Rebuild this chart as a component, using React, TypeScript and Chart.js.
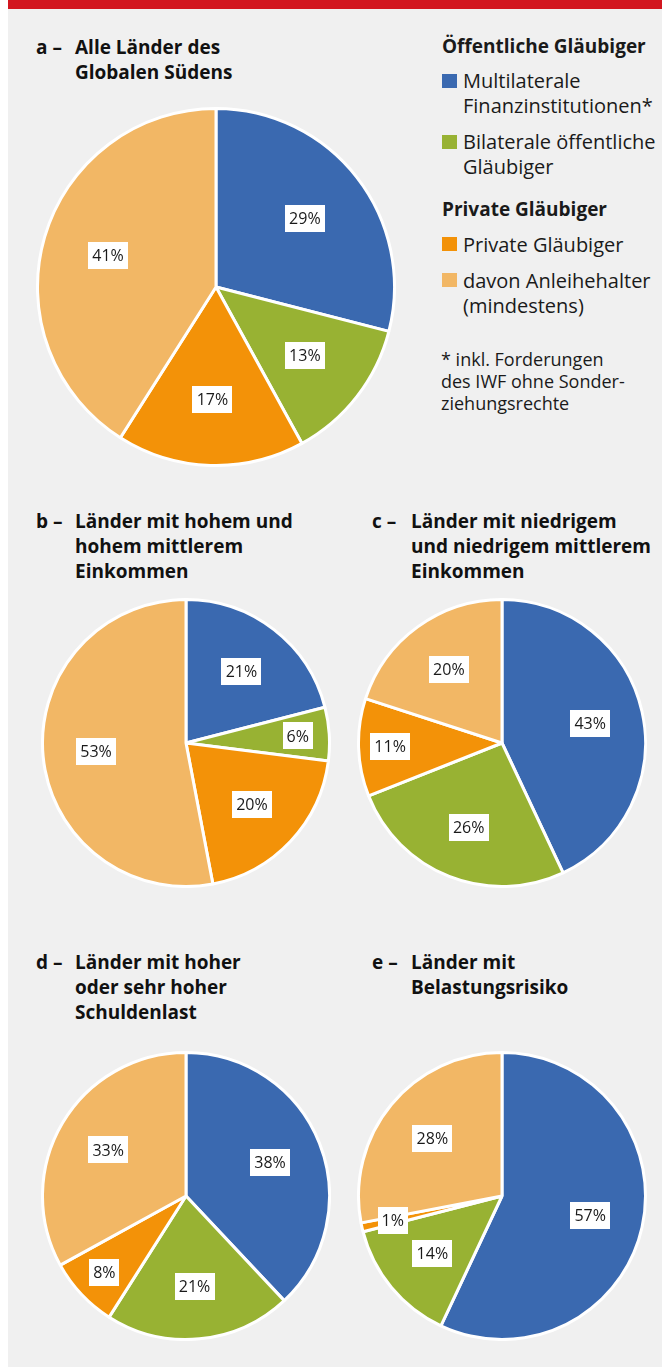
import React, { useEffect, useRef } from "react";
import { Chart, registerables } from "chart.js";

Chart.register(...registerables);

// ---- Data ----
const categories = [
  "Multilaterale Finanzinstitutionen*",
  "Bilaterale öffentliche Gläubiger",
  "Private Gläubiger",
  "davon Anleihehalter (mindestens)",
];
const valuesA = [29, 13, 17, 41];
const valuesB = [21, 6, 20, 53];
const valuesC = [43, 26, 11, 20];
const valuesD = [38, 21, 8, 33];
const valuesE = [57, 14, 1, 28];

const titleA = ["Alle Länder des", "Globalen Südens"];
const titleB = ["Länder mit hohem und", "hohem mittlerem", "Einkommen"];
const titleC = ["Länder mit niedrigem", "und niedrigem mittlerem", "Einkommen"];
const titleD = ["Länder mit hoher", "oder sehr hoher", "Schuldenlast"];
const titleE = ["Länder mit", "Belastungsrisiko"];

const colors = ["#3a69b0", "#98b233", "#f39208", "#f2b765"];

const FONT = "'Open Sans', 'Noto Sans', sans-serif";

const labelPlugin = {
  id: "boxLabels",
  afterDatasetsDraw(chart: any) {
    const ctx = chart.ctx;
    const meta = chart.getDatasetMeta(0);
    const data = chart.data.datasets[0].data as number[];
    ctx.save();
    ctx.font = "16px 'Open Sans'";
    ctx.textAlign = "center";
    ctx.textBaseline = "middle";
    meta.data.forEach((arc: any, i: number) => {
      const p = arc.getProps(["x", "y", "startAngle", "endAngle", "outerRadius"], true);
      const v = data[i];
      const mid = (p.startAngle + p.endAngle) / 2;
      const f = v < 12 ? 0.78 : 0.63;
      const px = p.x + Math.cos(mid) * p.outerRadius * f;
      const py = p.y + Math.sin(mid) * p.outerRadius * f;
      const text = v + "%";
      const w = Math.round(ctx.measureText(text).width + 8);
      const h = 27;
      ctx.fillStyle = "#ffffff";
      ctx.fillRect(Math.round(px - w / 2), Math.round(py - h / 2), w, h);
      ctx.fillStyle = "#1a1a1a";
      ctx.fillText(text, px, py + 1);
    });
    ctx.restore();
  },
};

function Pie({ values, size, left, top }: { values: number[]; size: number; left: number; top: number }) {
  const ref = useRef<HTMLCanvasElement>(null);
  useEffect(() => {
    if (!ref.current) return;
    const chart = new Chart(ref.current, {
      type: "pie",
      data: {
        labels: categories,
        datasets: [
          {
            data: values,
            backgroundColor: colors,
            borderColor: "#ffffff",
            borderWidth: 3,
          },
        ],
      },
      options: {
        responsive: false,
        animation: false,
        layout: { padding: 0 },
        plugins: { legend: { display: false }, tooltip: { enabled: false } },
      },
      plugins: [labelPlugin],
    });
    return () => chart.destroy();
  }, [values]);
  return (
    <canvas
      ref={ref}
      width={size}
      height={size}
      style={{ position: "absolute", left, top, width: size, height: size }}
    />
  );
}

function Title({ letter, lines, left, top }: { letter: string; lines: string[]; left: number; top: number }) {
  const style: React.CSSProperties = {
    position: "absolute",
    top,
    fontFamily: FONT,
    fontWeight: 700,
    fontSize: 19,
    lineHeight: "25px",
    color: "#111",
    whiteSpace: "nowrap",
  };
  return (
    <>
      <div style={{ ...style, left }}>{letter} –</div>
      <div style={{ ...style, left: left + 39 }}>
        {lines.map((l, i) => (
          <div key={i}>{l}</div>
        ))}
      </div>
    </>
  );
}

function Abs({ left, top, children, style }: { left: number; top: number; children: React.ReactNode; style?: React.CSSProperties }) {
  return (
    <div
      style={{
        position: "absolute",
        left,
        top,
        fontFamily: FONT,
        fontSize: 20,
        lineHeight: "25px",
        color: "#1a1a1a",
        whiteSpace: "nowrap",
        ...style,
      }}
    >
      {children}
    </div>
  );
}

function Square({ top, color }: { top: number; color: string }) {
  return <div style={{ position: "absolute", left: 442, top, width: 15, height: 14, background: color }} />;
}

export default function App() {
  return (
    <div style={{ position: "absolute", left: 0, top: 0, width: 662, height: 1367, overflow: "hidden" }}>
      <div style={{ position: "absolute", left: 8, top: 0, width: 654, height: 1367, background: "#f0f0f0" }} />
      <div style={{ position: "absolute", left: 8, top: 0, width: 654, height: 9, background: "#d2161f" }} />

      <Title letter="a" lines={titleA} left={36} top={35} />
      <Title letter="b" lines={titleB} left={36} top={509} />
      <Title letter="c" lines={titleC} left={372} top={509} />
      <Title letter="d" lines={titleD} left={36} top={950} />
      <Title letter="e" lines={titleE} left={372} top={950} />

      {/* Legend */}
      <Abs left={442} top={34} style={{ fontWeight: 700, fontSize: 19 }}>Öffentliche Gläubiger</Abs>
      <Square top={74} color={colors[0]} />
      <Abs left={463} top={68}>
        <div>Multilaterale</div>
        <div>Finanzinstitutionen*</div>
      </Abs>
      <Square top={135} color={colors[1]} />
      <Abs left={463} top={129}>
        <div>Bilaterale öffentliche</div>
        <div>Gläubiger</div>
      </Abs>
      <Abs left={442} top={197} style={{ fontWeight: 700, fontSize: 19 }}>Private Gläubiger</Abs>
      <Square top={237} color={colors[2]} />
      <Abs left={463} top={232}>
        <div>Private Gläubiger</div>
      </Abs>
      <Square top={273} color={colors[3]} />
      <Abs left={463} top={268}>
        <div>davon Anleihehalter</div>
        <div>(mindestens)</div>
      </Abs>
      <Abs left={441} top={348} style={{ fontSize: 18, lineHeight: "22px" }}>
        <div>* inkl. Forderungen</div>
        <div>des IWF ohne Sonder-</div>
        <div>ziehungsrechte</div>
      </Abs>

      <Pie values={valuesA} size={360} left={36} top={107} />
      <Pie values={valuesB} size={290} left={41} top={598} />
      <Pie values={valuesC} size={290} left={357} top={598} />
      <Pie values={valuesD} size={290} left={41} top={1051} />
      <Pie values={valuesE} size={290} left={357} top={1051} />
    </div>
  );
}
